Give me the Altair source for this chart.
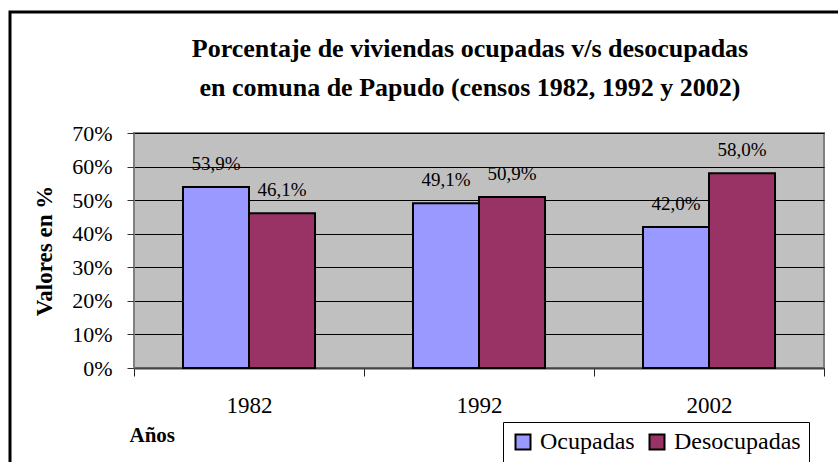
import altair as alt
import pandas as pd

# Census years and share of occupied / unoccupied dwellings (fractions)
years = ["1982", "1992", "2002"]
ocupadas = [0.539, 0.491, 0.420]
desocupadas = [0.461, 0.509, 0.580]
series = ["Ocupadas", "Desocupadas"]
colors = ["#9999FF", "#993366"]
y_ticks = [0, 0.1, 0.2, 0.3, 0.4, 0.5, 0.6, 0.7]
title_lines = [
    "Porcentaje de viviendas ocupadas v/s desocupadas",
    "en comuna de Papudo (censos 1982, 1992 y 2002)",
]

rows = []
for i, y in enumerate(years):
    rows.append({"anio": y, "serie": series[0], "valor": ocupadas[i]})
    rows.append({"anio": y, "serie": series[1], "valor": desocupadas[i]})
df = pd.DataFrame(rows)

SERIF = "Liberation Serif"

x_enc = alt.X(
    "anio:N",
    sort=years,
    scale=alt.Scale(paddingInner=0, paddingOuter=0),
    axis=alt.Axis(
        title="Años",
        titleFont=SERIF,
        titleFontSize=21,
        titleFontWeight="bold",
        titleColor="black",
        titleAnchor="start",
        titleAlign="left",
        titleX=-5,
        titleY=67,
        titleBaseline="middle",
        labelFont=SERIF,
        labelFontSize=23,
        labelColor="black",
        labelAngle=0,
        labelPadding=18,
        tickBand="extent",
        tickSize=8,
        tickColor="#222222",
        domainColor="#444444",
        domainWidth=2,
    ),
)
xoff = alt.XOffset("serie:N", sort=series, scale=alt.Scale(paddingOuter=0.742, paddingInner=0))
y_enc = alt.Y(
    "valor:Q",
    scale=alt.Scale(domain=[0, 0.7], nice=False),
    axis=alt.Axis(
        title="Valores en %",
        titleFont=SERIF,
        titleFontSize=23,
        titleFontWeight="bold",
        titleColor="black",
        titlePadding=15,
        format=".0%",
        values=y_ticks,
        labelFont=SERIF,
        labelFontSize=22,
        labelColor="black",
        labelPadding=15,
        tickSize=7,
        tickColor="#333333",
        domainColor="#808080",
        gridColor="black",
        gridWidth=1,
    ),
)
color_enc = alt.Color(
    "serie:N",
    sort=series,
    scale=alt.Scale(domain=series, range=colors),
    legend=alt.Legend(
        title=None,
        orient="none",
        legendX=369,
        legendY=289,
        direction="horizontal",
        fillColor="white",
        strokeColor="black",
        padding=8,
        symbolType="square",
        symbolSize=225,
        symbolStrokeColor="black",
        symbolStrokeWidth=2,
        symbolOpacity=1,
        labelFont=SERIF,
        labelFontSize=24,
        labelColor="black",
        labelOffset=5,
        columnPadding=10,
    ),
)

base = alt.Chart(df).encode(x=x_enc, xOffset=xoff, y=y_enc)

bars = base.mark_bar(stroke="black", strokeWidth=2, opacity=1).encode(color=color_enc)

labels = base.transform_calculate(
    etiqueta="replace(format(datum.valor, '.1%'), '.', ',')"
).mark_text(font=SERIF, fontSize=19, color="black", dy=-23, baseline="middle").encode(
    text="etiqueta:N"
)

deco = alt.Chart(pd.DataFrame({"k": [0]}))

# Outer chart frame
frame = deco.mark_rect(fill="transparent", stroke="black", strokeWidth=3).encode(
    x=alt.value(-124), x2=alt.value(720), y=alt.value(-121), y2=alt.value(340)
)

# Two-line bold heading
heading = [
    deco.mark_text(
        font=SERIF, fontSize=26, fontWeight="bold", color="black",
        align="center", baseline="alphabetic",
    ).encode(x=alt.value(336), y=alt.value(yy), text=alt.value(t))
    for t, yy in zip(title_lines, [-76, -37])
]

chart = alt.layer(bars, labels, frame, *heading).properties(
    width=690,
    height=235,
    background="white",
    view=alt.ViewBackground(fill="#C0C0C0", stroke="#808080", strokeWidth=2),
    padding={"left": 134, "top": 133, "right": 14, "bottom": 94},
    autosize=alt.AutoSizeParams(type="none"),
)

chart.save("out.html", embed_options={"renderer": "svg", "actions": False})
